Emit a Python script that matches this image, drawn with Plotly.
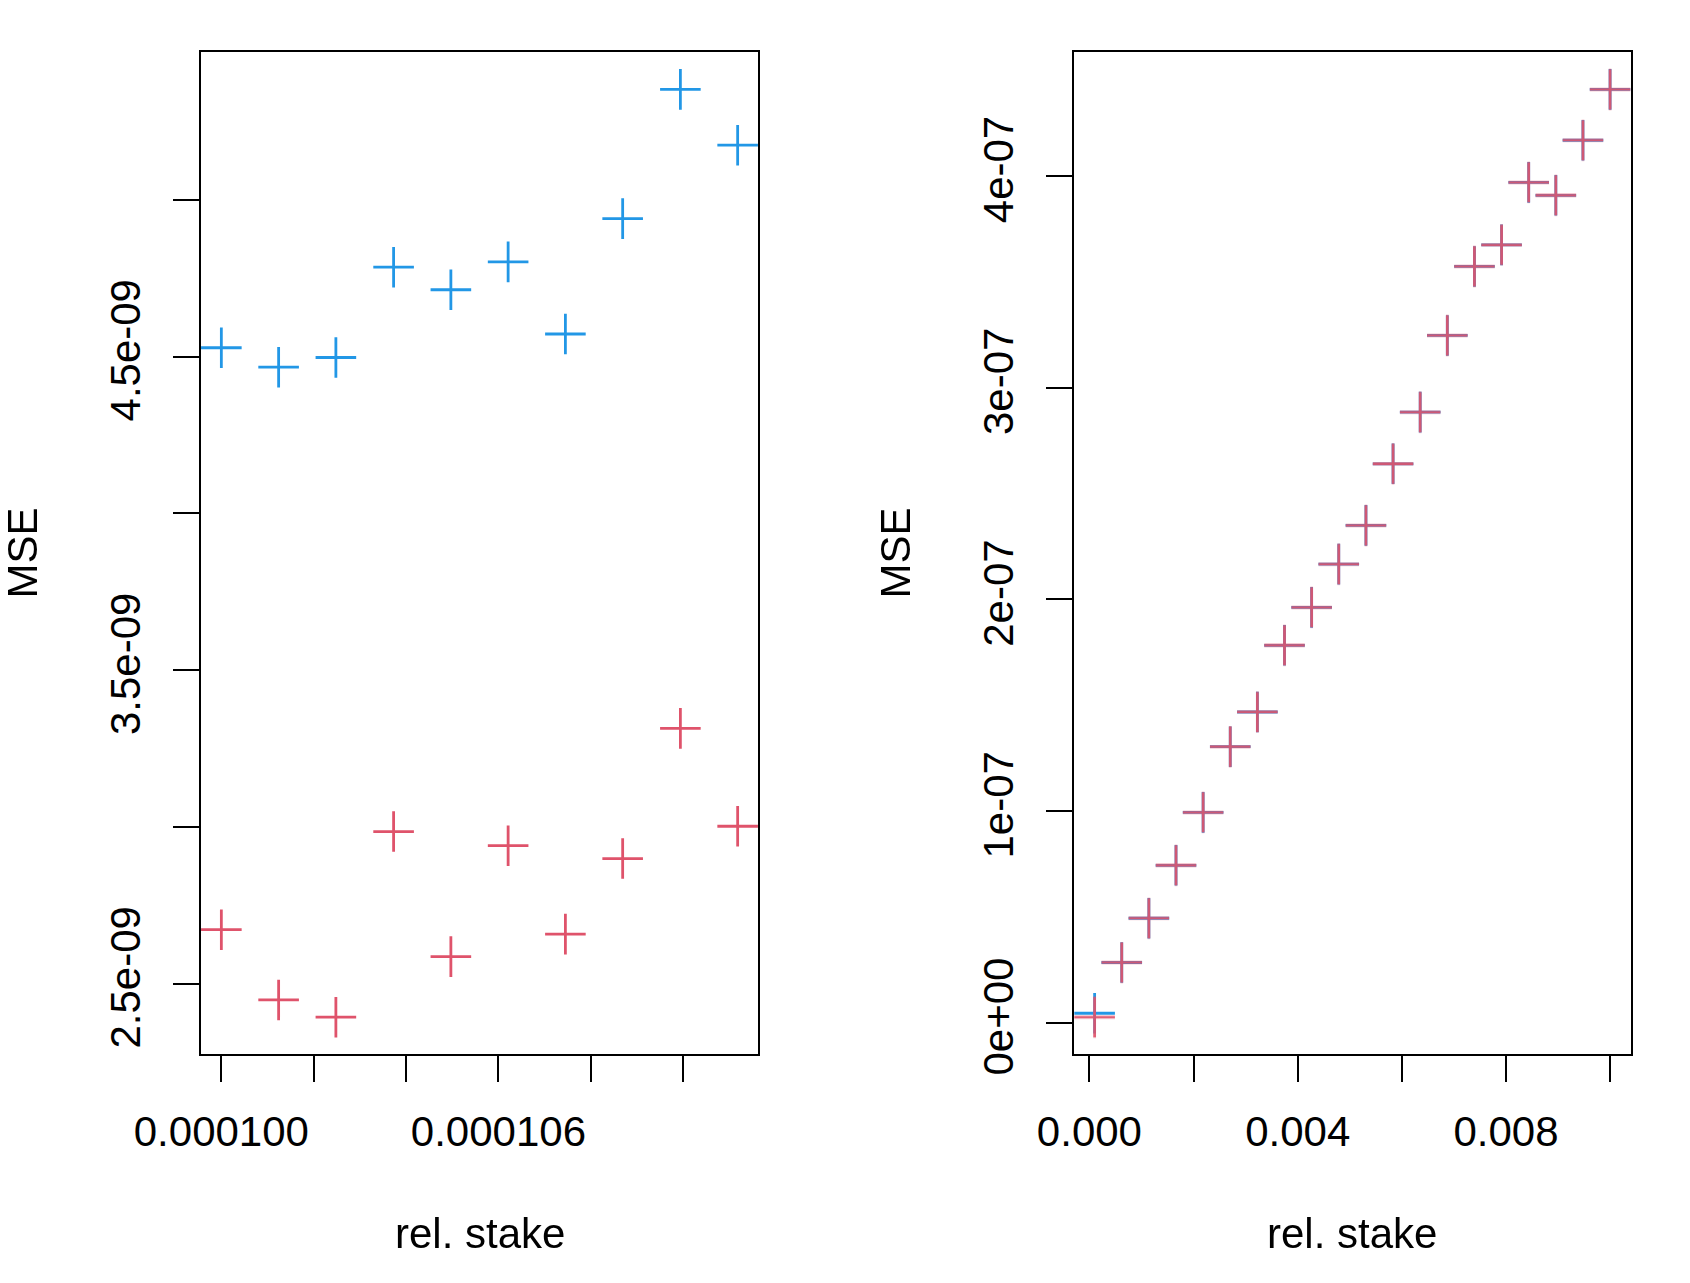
import plotly.graph_objects as go

# ---------------- data ----------------
left_x = [0.00010000, 0.00010124, 0.00010248, 0.00010373, 0.00010497,
          0.00010621, 0.00010745, 0.00010869, 0.00010994, 0.00011118]
left_blue = [4.528e-09, 4.466e-09, 4.497e-09, 4.785e-09, 4.713e-09,
             4.802e-09, 4.572e-09, 4.940e-09, 5.352e-09, 5.174e-09]
left_red = [2.672e-09, 2.448e-09, 2.393e-09, 2.985e-09, 2.586e-09,
            2.940e-09, 2.658e-09, 2.899e-09, 3.314e-09, 3.002e-09]

right_x = [0.0001, 0.000621, 0.001142, 0.001663, 0.002184, 0.002705, 0.003226,
           0.003747, 0.004268, 0.004789, 0.005311, 0.005832, 0.006353, 0.006874,
           0.007395, 0.007916, 0.008437, 0.008958, 0.009479, 0.0100]
right_blue = [4.53e-09, 2.85e-08, 4.94e-08, 7.44e-08, 9.94e-08, 1.304e-07, 1.468e-07,
              1.783e-07, 1.962e-07, 2.166e-07, 2.349e-07, 2.640e-07, 2.884e-07, 3.246e-07,
              3.572e-07, 3.674e-07, 3.969e-07, 3.908e-07, 4.168e-07, 4.408e-07]
right_red = [2.67e-09, 2.85e-08, 4.94e-08, 7.44e-08, 9.94e-08, 1.304e-07, 1.468e-07,
             1.783e-07, 1.962e-07, 2.166e-07, 2.349e-07, 2.640e-07, 2.884e-07, 3.246e-07,
             3.572e-07, 3.674e-07, 3.969e-07, 3.908e-07, 4.168e-07, 4.408e-07]

left_xtick_vals = [0.000100, 0.000102, 0.000104, 0.000106, 0.000108, 0.000110]
left_xtick_text = ["0.000100", "", "", "0.000106", "", ""]
left_ytick_vals = [2.5e-09, 3.0e-09, 3.5e-09, 4.0e-09, 4.5e-09, 5.0e-09]
left_ytick_text = ["2.5e-09", "", "3.5e-09", "", "4.5e-09", ""]
right_xtick_vals = [0.000, 0.002, 0.004, 0.006, 0.008, 0.010]
right_xtick_text = ["0.000", "", "0.004", "", "0.008", ""]
right_ytick_vals = [0.0, 1e-07, 2e-07, 3e-07, 4e-07]
right_ytick_text = ["0e+00", "1e-07", "2e-07", "3e-07", "4e-07"]

x_label = "rel. stake"
y_label = "MSE"

BLUE = "#2297E6"
RED = "#DF536B"
FONT = "Liberation Sans, Arial, sans-serif"
FS = 42
W, H = 1690, 1283


def pad_range(*arrays):
    vals = [v for a in arrays for v in a]
    lo, hi = min(vals), max(vals)
    d = (hi - lo) * 0.04
    return [lo - d, hi + d]


def marker(color):
    return dict(symbol="cross-thin", size=29, line=dict(color=color, width=2.8))


fig = go.Figure()
fig.add_trace(go.Scatter(x=left_x, y=left_blue, mode="markers", marker=marker(BLUE),
                         xaxis="x", yaxis="y", showlegend=False))
fig.add_trace(go.Scatter(x=left_x, y=left_red, mode="markers", marker=marker(RED),
                         xaxis="x", yaxis="y", showlegend=False))
fig.add_trace(go.Scatter(x=right_x, y=right_blue, mode="markers", marker=marker(BLUE),
                         xaxis="x2", yaxis="y2", showlegend=False))
fig.add_trace(go.Scatter(x=right_x, y=right_red, mode="markers", marker=marker(RED),
                         opacity=0.92, xaxis="x2", yaxis="y2", showlegend=False))

# panel boxes in pixels
L = (200.7, 758.3)
R = (1074.0, 1630.7)
top, bot = 52.3, 1054.3
ydom = [(H - bot) / H, (H - top) / H]

axis_common = dict(showline=True, mirror=True, linecolor="black", linewidth=2,
                   ticks="outside", ticklen=26, tickwidth=2, tickcolor="black",
                   showgrid=False, zeroline=False, automargin=False,
                   tickfont=dict(family=FONT, size=FS, color="black"),
                   tickmode="array")

fig.update_layout(
    template="none",
    width=W, height=H,
    margin=dict(l=0, r=0, t=0, b=0),
    paper_bgcolor="white", plot_bgcolor="white",
    xaxis=dict(domain=[L[0] / W, L[1] / W], range=pad_range(left_x),
               tickvals=left_xtick_vals, ticktext=left_xtick_text,
               anchor="y", ticklabelstandoff=13, **axis_common),
    yaxis=dict(domain=ydom, range=pad_range(left_blue, left_red),
               tickvals=left_ytick_vals, ticktext=left_ytick_text,
               tickangle=-90, anchor="x", ticklabelstandoff=16, **axis_common),
    xaxis2=dict(domain=[R[0] / W, R[1] / W], range=pad_range(right_x),
                tickvals=right_xtick_vals, ticktext=right_xtick_text,
                anchor="y2", ticklabelstandoff=13, **axis_common),
    yaxis2=dict(domain=ydom, range=pad_range(right_blue, right_red),
                tickvals=right_ytick_vals, ticktext=right_ytick_text,
                tickangle=-90, anchor="x2", ticklabelstandoff=16, **axis_common),
)

ann_font = dict(family=FONT, size=FS, color="black")
for cx in (21.5, 894.6):
    fig.add_annotation(text=y_label, xref="paper", yref="paper",
                       x=cx / W, y=(H - 553) / H, textangle=-90,
                       xanchor="center", yanchor="middle", showarrow=False, font=ann_font)
for cx in ((L[0] + L[1]) / 2, (R[0] + R[1]) / 2):
    fig.add_annotation(text=x_label, xref="paper", yref="paper",
                       x=cx / W, y=(H - 1233) / H,
                       xanchor="center", yanchor="middle", showarrow=False, font=ann_font)

fig.write_html("out.html")
